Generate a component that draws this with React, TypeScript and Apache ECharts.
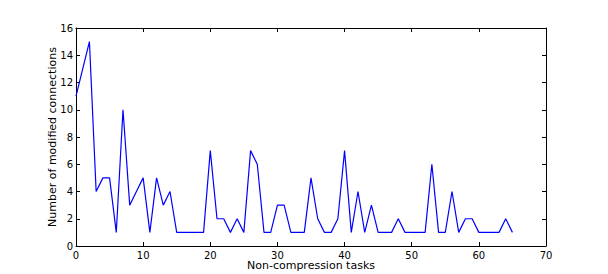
import React, { useEffect, useRef } from "react";
import * as echarts from "echarts";

const tasks: number[] = Array.from({ length: 66 }, (_, i) => i);
const connections: number[] = [
  11, 13, 15, 4, 5, 5, 1, 10, 3, 4,
  5, 1, 5, 3, 4, 1, 1, 1, 1, 1,
  7, 2, 2, 1, 2, 1, 7, 6, 1, 1,
  3, 3, 1, 1, 1, 5, 2, 1, 1, 2,
  7, 1, 4, 1, 3, 1, 1, 1, 2, 1,
  1, 1, 1, 6, 1, 1, 4, 1, 2, 2,
  1, 1, 1, 1, 2, 1,
];
const xTitle = "Non-compression tasks";
const yTitle = "Number of modified connections";

export default function App() {
  const ref = useRef<HTMLDivElement>(null);
  useEffect(() => {
    const chart = echarts.init(ref.current!, null, { renderer: "svg" });
    const font = "DejaVu Sans";
    const axisLine = { show: true, onZero: false, lineStyle: { color: "#000", width: 1 } };
    const tick = { show: true, inside: true, length: 4, lineStyle: { color: "#000", width: 1 } };
    chart.setOption({
      animation: false,
      backgroundColor: "#fff",
      textStyle: { fontFamily: font },
      grid: {
        left: 76,
        right: 62,
        top: 28,
        bottom: 28,
        containLabel: false,
        outerBoundsMode: "none",
      },
      xAxis: [
        {
          type: "value",
          min: 0,
          max: 70,
          interval: 10,
          position: "bottom",
          name: xTitle,
          nameLocation: "middle",
          nameGap: 14,
          nameMoveOverlap: false,
          nameTextStyle: { color: "#000", fontSize: 11, lineHeight: 11, fontFamily: font },
          axisLine,
          axisTick: tick,
          splitLine: { show: false },
          axisLabel: { color: "#000", fontSize: 10, lineHeight: 10, fontFamily: font, margin: 4 },
        },
        {
          type: "value",
          min: 0,
          max: 70,
          interval: 10,
          position: "top",
          axisLine,
          axisTick: tick,
          splitLine: { show: false },
          axisLabel: { show: false },
        },
      ],
      yAxis: [
        {
          type: "value",
          min: 0,
          max: 16,
          interval: 2,
          position: "left",
          name: yTitle,
          nameLocation: "middle",
          nameGap: 18,
          nameMoveOverlap: false,
          nameTextStyle: { color: "#000", fontSize: 11, lineHeight: 11, fontFamily: font },
          axisLine,
          axisTick: tick,
          splitLine: { show: false },
          axisLabel: { color: "#000", fontSize: 10, fontFamily: font, margin: 3 },
        },
        {
          type: "value",
          min: 0,
          max: 16,
          interval: 2,
          position: "right",
          axisLine,
          axisTick: tick,
          splitLine: { show: false },
          axisLabel: { show: false },
        },
      ],
      series: [
        {
          type: "line",
          data: tasks.map((t, i) => [t, connections[i]]),
          showSymbol: false,
          symbol: "none",
          lineStyle: { color: "#0000ff", width: 1.2 },
          xAxisIndex: 0,
          yAxisIndex: 0,
        },
      ],
    });
    return () => chart.dispose();
  }, []);
  return (
    <div
      ref={ref}
      style={{ position: "fixed", left: 0, top: 0, width: 608, height: 274 }}
    />
  );
}
